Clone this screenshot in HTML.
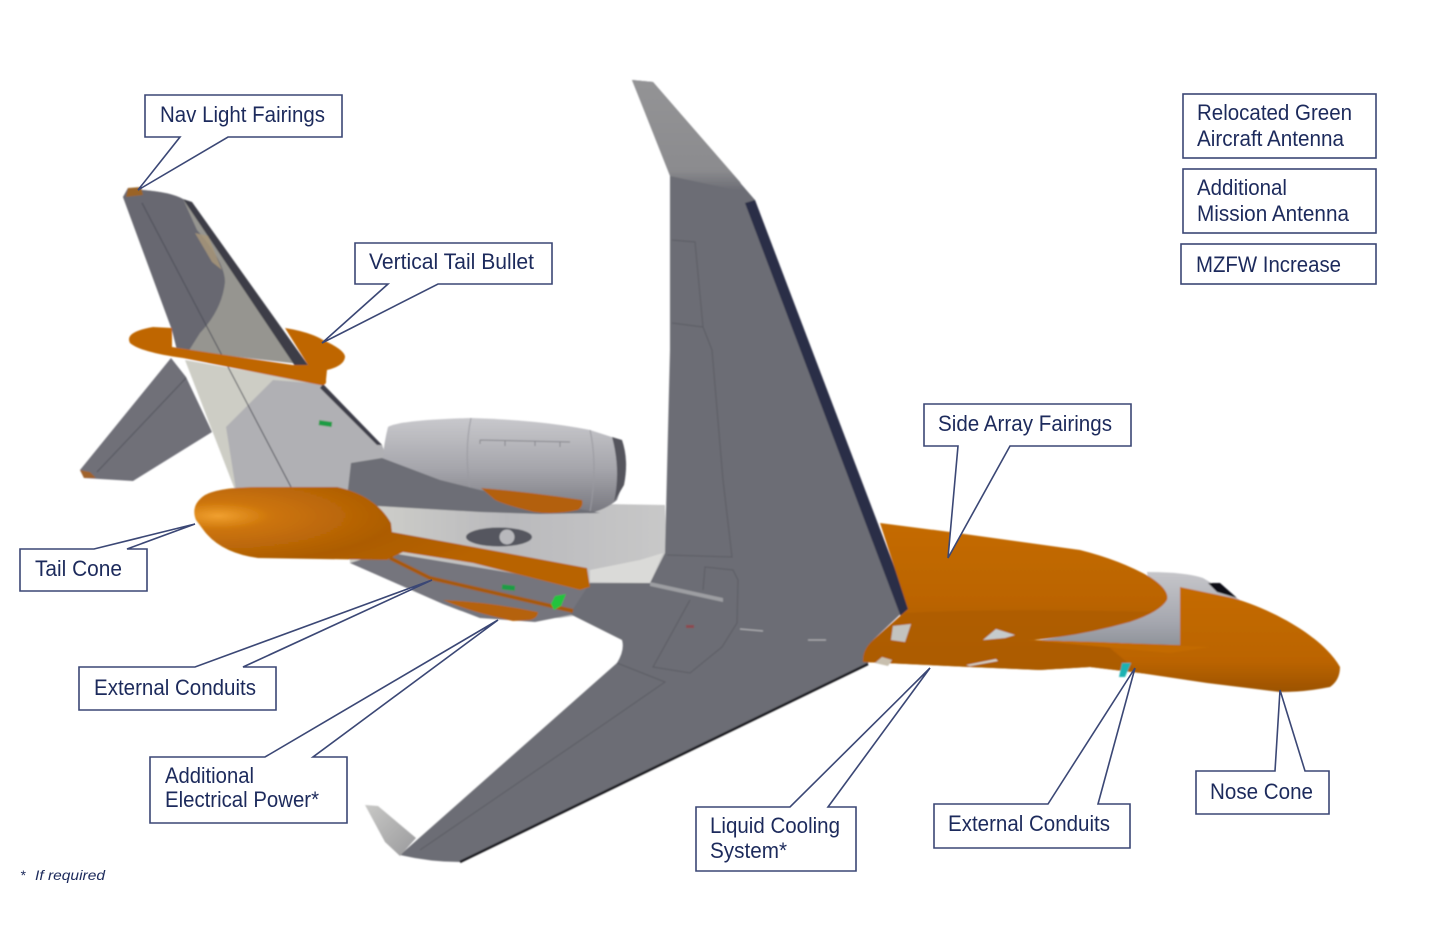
<!DOCTYPE html>
<html><head><meta charset="utf-8"><title>Aircraft modifications</title>
<style>html,body{margin:0;padding:0;background:#fff;width:1440px;height:944px;overflow:hidden}svg{display:block}
text{font-family:"Liberation Sans",sans-serif;font-size:22px;fill:#1f2c5c}</style></head><body>
<svg width="1440" height="944" viewBox="0 0 1440 944" xmlns="http://www.w3.org/2000/svg">
<defs>
<filter id="b" x="-5%" y="-5%" width="110%" height="110%"><feGaussianBlur stdDeviation="0.8"/></filter>
<filter id="t" x="-5%" y="-5%" width="110%" height="110%"><feGaussianBlur stdDeviation="0.35"/></filter>
<linearGradient id="or" x1="0" y1="0" x2="0" y2="1"><stop offset="0" stop-color="#c46a05"/><stop offset=".5" stop-color="#bb6405"/><stop offset="1" stop-color="#9f5405"/></linearGradient>
<linearGradient id="nose" x1="0" y1="0" x2="0" y2="1"><stop offset="0" stop-color="#c46a05"/><stop offset=".7" stop-color="#bb6405"/><stop offset="1" stop-color="#9c5205"/></linearGradient>
<radialGradient id="cone" cx="0.06" cy="0.28" r="0.75"><stop offset="0" stop-color="#f0a030"/><stop offset=".18" stop-color="#cc7408"/><stop offset=".6" stop-color="#ac5c05"/><stop offset="1" stop-color="#b86305"/></radialGradient>
<linearGradient id="eng" x1="0" y1="0" x2="0" y2="1"><stop offset="0" stop-color="#c8c8cc"/><stop offset=".55" stop-color="#a4a4aa"/><stop offset="1" stop-color="#77777f"/></linearGradient>
<linearGradient id="fus" x1="0" y1="0" x2="1" y2="0"><stop offset="0" stop-color="#d2d2cc"/><stop offset=".5" stop-color="#b9b9bc"/><stop offset="1" stop-color="#c8c8c8"/></linearGradient>
<linearGradient id="band" x1="0" y1="0" x2="0" y2="1"><stop offset="0" stop-color="#c6c6ca"/><stop offset=".7" stop-color="#a4a6ae"/><stop offset="1" stop-color="#8f939a"/></linearGradient>
<linearGradient id="wlet" x1="0" y1="0" x2="1" y2="1"><stop offset="0" stop-color="#c8c8c6"/><stop offset="1" stop-color="#9a9a9c"/></linearGradient>
<linearGradient id="wing" gradientUnits="userSpaceOnUse" x1="0" y1="80" x2="0" y2="190"><stop offset="0" stop-color="#939395"/><stop offset=".82" stop-color="#8b8b8e"/><stop offset="1" stop-color="#6c6d75"/></linearGradient>
</defs>
<rect width="1440" height="944" fill="#fff"/>
<g filter="url(#b)">
<!-- lower tailplane -->
<polygon points="171,358 80,470 84,478 133,481 212,432 186,377" fill="#6f7078"/>
<line x1="186" y1="378" x2="97" y2="472" stroke="#54555d" stroke-width="1"/>
<polygon points="80,470 84,478 96,478 90,472" fill="#a0622a"/>
<!-- rear fin body -->
<polygon points="185,360 323,384 382,445 400,495 235,490" fill="#cdcdc5"/>
<polygon points="273,380 323,384 382,445 400,495 236,490 226,427" fill="#b0b0b4"/>
<polygon points="323,384 382,445 377,445 320,388" fill="#3c3d48"/>
<!-- vertical tail -->
<path d="M123,197 L128,188 L143,190 Q170,192 183,199 L308,365 L177,350 L172,330 Z" fill="#969590"/>
<path d="M123,197 L128,188 L143,190 Q170,192 183,199 L197,230 Q225,262 225,282 Q222,310 200,333 L188,352 L177,350 L172,330 Z" fill="#676871"/>
<polygon points="183,199 192,202 308,365 295,366" fill="#3c3d46"/>
<polygon points="195,233 208,236 222,270 212,262" fill="#a89679" opacity=".85"/>
<line x1="142" y1="203" x2="291" y2="487" stroke="#4e4f58" stroke-width="1"/>
<polygon points="128,188 141,187 143,195 126,197" fill="#9a6328"/>
<!-- bullet -->
<path d="M130,343 Q124,332 153,327 L172,328 L172,347 L293,365 L308,365 L285,328 Q310,332 323,340 Q345,350 345,357 Q344,366 327,370 L326,380 Q327,386 320,385 L183,358 Q140,352 130,343 Z" fill="#bf6606"/>
<!-- fuselage -->
<path d="M345,500 L665,505 L668,575 L650,600 L600,612 L560,618 L480,618 L350,563 Z" fill="url(#fus)"/>
<path d="M350,563 L385,552 L590,586 L575,614 L535,622 L480,618 L443,604 Z" fill="#74757d"/>
<polygon points="590,570 640,560 663,553 650,583 590,582" fill="#dadad8"/>
<!-- engine -->
<path d="M388,427 Q400,420 471,418 Q540,420 590,430 L621,440 Q628,460 624,480 L617,500 Q605,510 590,513 L380,490 Q382,450 388,427 Z" fill="url(#eng)"/>
<path d="M612,437 L622,440 Q629,460 624,485 L614,502 Q621,470 612,437 Z" fill="#54555d"/>
<path d="M480,440 L570,442 M480,440 L480,444 M505,441 L505,446 M535,441 L535,446 M560,442 L560,447" stroke="#85858b" stroke-width="1" fill="none"/>
<path d="M471,418 Q464,450 470,490 M590,430 Q598,465 590,512" stroke="#9a9aa0" stroke-width="1" fill="none"/>
<polygon points="351,463 382,458 440,480 480,490 600,513 540,514 480,512 360,505 347,498" fill="#6d6e76"/>
<path d="M481,488 Q530,492 582,500 Q584,506 578,510 Q555,515 534,512 Q505,505 495,500 Z" fill="#b3600a"/>
<!-- oval -->
<ellipse cx="499" cy="537" rx="33" ry="9.5" fill="#55565f"/>
<circle cx="507" cy="537" r="7.5" fill="#b8b8bc"/>
<!-- wing -->
<path d="M632,80 L653,82 L755,200 L908,607 L873,640 L868,664 L460,862 Q430,862 400,855 L617,663 Q625,650 622,640 L570,614 L590,583 L650,583 L665,553 L670,350 L670,173 Z" fill="#6c6d75"/>
<path d="M632,80 L653,82 L740,182 L745,192 L670,176 Z" fill="url(#wing)"/>
<polygon points="650,582 723,598 723,602 650,586" fill="#9d9ea2"/>
<polygon points="365,805 378,806 416,838 400,856 385,842" fill="url(#wlet)"/>
<polygon points="745,203 755,200 910,608 901,617" fill="#2c2e47"/>
<line x1="460" y1="862" x2="868" y2="664" stroke="#17171c" stroke-width="2.5"/>
<g fill="none" stroke="#5b5c64" stroke-width="1">
<path d="M672,240 L695,242 L703,327 L672,323 M703,327 L712,350 L723,480 L732,557 L667,555"/>
<path d="M703,590 L705,567 L733,570 L738,580 L737,623 L722,647 L690,673 L653,667 L668,640 L690,600"/>
<path d="M617,663 L665,682 L610,720 L420,850"/>
</g>
<path d="M740,629 L763,631 M808,640 L826,640" stroke="#b0b0b4" stroke-width="1.2"/>
<rect x="686" y="625" width="8" height="3" fill="#8c4a50"/>
<!-- tail cone and conduits -->
<path d="M196,520 Q190,505 205,495 Q220,487 260,487 L337,487 Q375,495 391,523 L392,532 Q480,548 587,568 L590,587 L580,590 L473,563 L403,552 L387,560 L258,558 Q222,553 205,532 Z" fill="url(#cone)"/>
<path d="M390,558 L430,578 L573,611" fill="none" stroke="#a65a08" stroke-width="4"/>
<path d="M443,600 Q490,602 538,612 Q538,618 530,620 L513,621 Q470,612 443,600 Z" fill="#b5620a"/>
<!-- green/markers -->
<rect x="319" y="421" width="13" height="5" fill="#1d9c44" transform="rotate(8 325 423)"/>
<rect x="502" y="585" width="13" height="5" fill="#1d9c44" transform="rotate(6 508 587)"/>
<polygon points="551,604 555,596 566,594 561,606 554,610" fill="#22c43c"/>
<!-- forward fuselage -->
<path d="M1147,572 Q1185,572 1203,578 L1240,600 L1180,645 L1033,641 Q1100,632 1153,610 Z" fill="url(#band)"/>
<polygon points="1208,583 1220,583 1237,598 1217,592" fill="#0f0f12"/>
<path d="M880,523 L950,532 L1080,550 Q1120,560 1150,577 Q1170,590 1167,600 Q1160,612 1130,622 Q1080,636 1033,640 L1180,645 L1180,677 L1140,673 L1090,667 L1040,670 L970,667 L863,662 Q862,650 873,640 L908,609 Z" fill="url(#or)"/>
<path d="M906,613 Q1000,608 1152,612 Q1100,632 1033,640 L1180,646 L1180,677 L1140,673 L1090,667 L1040,670 L970,667 L863,662 Q862,650 873,640 Z" fill="#ae5d05" opacity=".85"/>
<path d="M1180,587 L1233,598 C1280,612 1325,640 1340,667 Q1340,680 1330,687 Q1305,692 1280,692 L1207,683 L1140,673 L1110,648 L1180,646 Z" fill="url(#nose)"/>
<polygon points="1027,640 1100,642 1210,647 1170,653" fill="#c36a05"/>
<polygon points="893,626 911,624 905,642 891,640" fill="#c3c3bf"/>
<polygon points="983,640 996,629 1015,635 1005,638" fill="#c6cbcc"/>
<polygon points="966,665 996,659 998,661 970,666" fill="#d4d0c8"/>
<polygon points="875,663 882,657 892,660 888,666" fill="#c8bfae"/>
<polygon points="1119,677 1122,663 1131,663 1125,677" fill="#1fb2b2"/>
</g>
<g filter="url(#t)">
<g fill="#fff" stroke="#3a4775" stroke-width="1.6">
<path d="M145,95 H342 V137 H228 L138,190 L180,137 H145 Z"/>
<path d="M355,243 H552 V284 H438 L322,343 L388,284 H355 Z"/>
<path d="M20,549 H94 L195,524 L127,549 H147 V591 H20 Z"/>
<path d="M79,667 H195 L432,580 L243,667 H276 V710 H79 Z"/>
<path d="M150,757 H265 L498,620 L313,757 H347 V823 H150 Z"/>
<path d="M696,807 H790 L930,668 L828,807 H856 V871 H696 Z"/>
<path d="M934,804 H1048 L1135,668 L1098,804 H1130 V848 H934 Z"/>
<path d="M1196,771 H1275 L1280,690 L1305,771 H1329 V814 H1196 Z"/>
<path d="M924,404 H1131 V446 H1010 L948,558 L958,446 H924 Z"/>
<rect x="1183" y="94" width="193" height="64"/><rect x="1183" y="169" width="193" height="64"/><rect x="1181" y="244" width="195" height="40"/>
</g>
<text x="160" y="122" textLength="165" lengthAdjust="spacingAndGlyphs">Nav Light Fairings</text>
<text x="369" y="269" textLength="165" lengthAdjust="spacingAndGlyphs">Vertical Tail Bullet</text>
<text x="35" y="576" textLength="87" lengthAdjust="spacingAndGlyphs">Tail Cone</text>
<text x="94" y="695" textLength="162" lengthAdjust="spacingAndGlyphs">External Conduits</text>
<text x="165" y="783" textLength="89" lengthAdjust="spacingAndGlyphs">Additional</text>
<text x="165" y="807" textLength="154" lengthAdjust="spacingAndGlyphs">Electrical Power*</text>
<text x="710" y="833" textLength="130" lengthAdjust="spacingAndGlyphs">Liquid Cooling</text>
<text x="710" y="858" textLength="77" lengthAdjust="spacingAndGlyphs">System*</text>
<text x="948" y="831" textLength="162" lengthAdjust="spacingAndGlyphs">External Conduits</text>
<text x="1210" y="799" textLength="103" lengthAdjust="spacingAndGlyphs">Nose Cone</text>
<text x="938" y="431" textLength="174" lengthAdjust="spacingAndGlyphs">Side Array Fairings</text>
<text x="1197" y="120" textLength="155" lengthAdjust="spacingAndGlyphs">Relocated Green</text>
<text x="1197" y="146" textLength="147" lengthAdjust="spacingAndGlyphs">Aircraft Antenna</text>
<text x="1197" y="195" textLength="90" lengthAdjust="spacingAndGlyphs">Additional</text>
<text x="1197" y="221" textLength="152" lengthAdjust="spacingAndGlyphs">Mission Antenna</text>
<text x="1196" y="272" textLength="145" lengthAdjust="spacingAndGlyphs">MZFW Increase</text>
<text x="20" y="880" style="font-size:14px;font-style:italic">*</text>
<text x="35" y="880" textLength="70" lengthAdjust="spacingAndGlyphs" style="font-size:14px;font-style:italic">If required</text>
</g>
</svg>
</body></html>
